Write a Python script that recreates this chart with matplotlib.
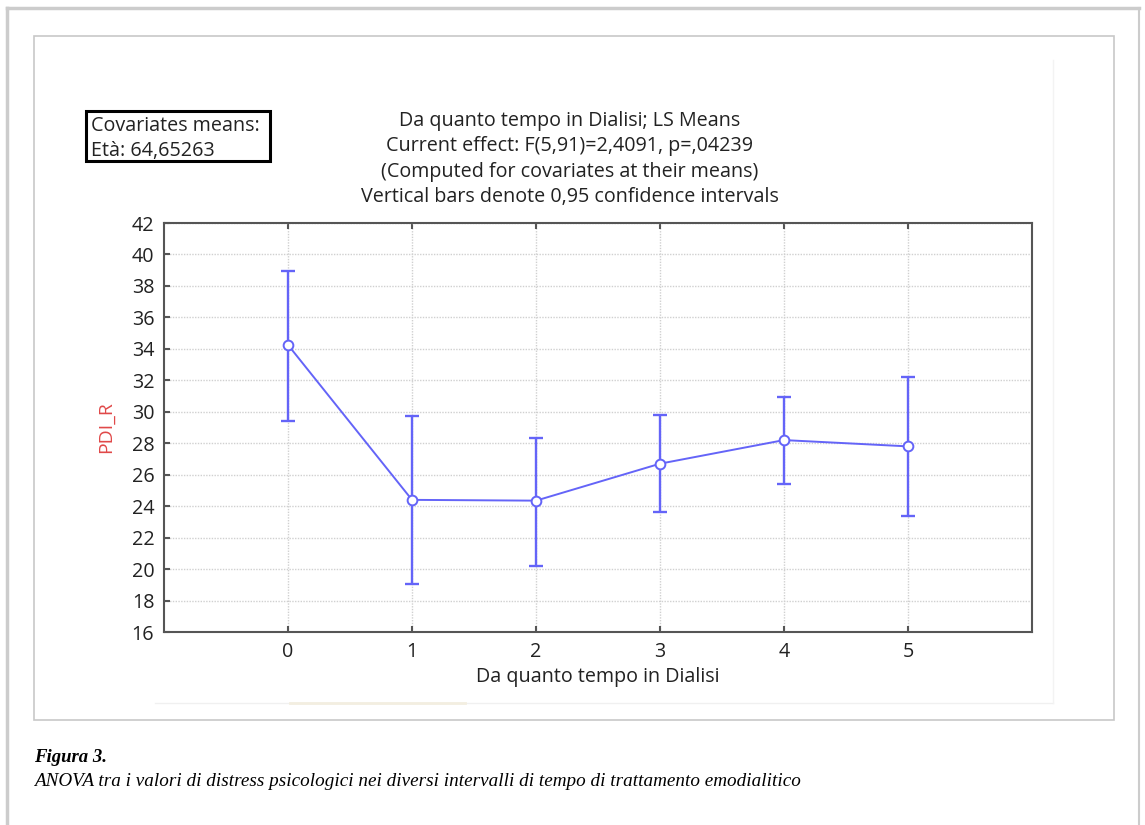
import matplotlib.pyplot as plt
from matplotlib.patches import Rectangle
from matplotlib.lines import Line2D

# data
groups = [0, 1, 2, 3, 4, 5]
means = [34.25, 24.4, 24.35, 26.7, 28.2, 27.8]
upper = [38.95, 29.75, 28.35, 29.8, 30.95, 32.2]
lower = [29.4, 19.05, 20.2, 23.65, 25.4, 23.4]
yticks = list(range(16, 43, 2))

title_lines = ["Da quanto tempo in Dialisi; LS Means",
               "Current effect: F(5,91)=2,4091, p=,04239",
               "(Computed for covariates at their means)",
               "Vertical bars denote 0,95 confidence intervals"]

W, H = 1145, 825
fig = plt.figure(figsize=(W / 100, H / 100), dpi=100)
fig.patch.set_facecolor('white')

def px(x, y):
    # pixel coords (from top-left) to figure fraction
    return x / W, 1 - y / H

# page borders
fig.add_artist(Line2D([7 / W, 7 / W], [0, px(0, 8)[1]], color='#cccccc', lw=2.5))
fig.add_artist(Line2D([7 / W, 1139 / W], [px(0, 8)[1]] * 2, color='#cccccc', lw=2.5))
fig.add_artist(Line2D([1139 / W, 1139 / W], [0, px(0, 8)[1]], color='#cccccc', lw=1.5))
fig.add_artist(Rectangle(px(34, 720), (1114 - 34) / W, (720 - 36) / H,
                         fill=False, ec='#c8c8c8', lw=1.2, transform=fig.transFigure))
# faint edge of the pasted chart image
fig.add_artist(Line2D([155 / W, 1053 / W], [px(0, 703)[1]] * 2, color='#f0f0f0', lw=1))
fig.add_artist(Line2D([290 / W, 465 / W], [px(0, 703)[1]] * 2, color='#f3eee0', lw=2))
fig.add_artist(Line2D([1053 / W, 1053 / W], [px(0, 703)[1], px(0, 60)[1]], color='#f3f3f3', lw=1))

font = 'Open Sans'
blue = '#6464f8'
fs = 14.2

l, b = px(164, 632)
ax = fig.add_axes([l, b, (1032 - 164) / W, (632 - 223) / H])
ax.errorbar(groups, means, yerr=[[m - lo for m, lo in zip(means, lower)],
                                 [u - m for m, u in zip(means, upper)]],
            fmt='none', ecolor=blue, elinewidth=1.7, capsize=5, capthick=1.7, zorder=3)
ax.plot(groups, means, color=blue, lw=1.4, marker='o', ms=7, mfc='white',
        mec=blue, mew=1.4, zorder=4)

ax.set_xlim(-1, 6)
ax.set_ylim(16, 42)
ax.set_xticks(groups)
ax.set_yticks(yticks)
ax.grid(True, color='#d0d0d0', ls=(0, (1, 1)), lw=1)
ax.set_axisbelow(True)
for s in ax.spines.values():
    s.set_color('#555555')
    s.set_linewidth(1.5)
ax.tick_params(direction='in', length=4, width=1.5, color='#555555',
               top=True, right=False, labelsize=fs, labelcolor='#222222', pad=7)
for t in ax.get_xticklabels() + ax.get_yticklabels():
    t.set_family(font)
ax.set_xlabel("Da quanto tempo in Dialisi", fontsize=fs, family=font, labelpad=4,
              color='#222222')
ax.set_ylabel("PDI_R", fontsize=14, family=font, color='#e04848', labelpad=12)

# titles
for i, line in enumerate(title_lines):
    fig.text(570 / W, px(0, 121 + 25.3 * i)[1], line, ha='center', va='center',
             fontsize=fs, family=font, color='#222222')

# covariates box
fig.add_artist(Rectangle(px(86, 161), (270 - 86) / W, (161 - 111) / H,
                         fill=False, ec='black', lw=2.2, transform=fig.transFigure))
fig.text(91 / W, px(0, 126)[1], "Covariates means:", ha='left', va='center',
         fontsize=fs, family=font, color='#222222')
fig.text(91 / W, px(0, 151)[1], "Età: 64,65263", ha='left', va='center',
         fontsize=fs, family=font, color='#222222')

# caption
fig.text(34 / W, px(0, 757)[1], "Figura 3.", ha='left', va='center', fontsize=13.5,
         family='Liberation Serif', style='italic', weight='bold')
fig.text(34 / W, px(0, 781)[1],
         "ANOVA tra i valori di distress psicologici nei diversi intervalli di tempo di trattamento emodialitico",
         ha='left', va='center', fontsize=13.8, family='Liberation Serif', style='italic')

fig.savefig('out.png', dpi=100)
